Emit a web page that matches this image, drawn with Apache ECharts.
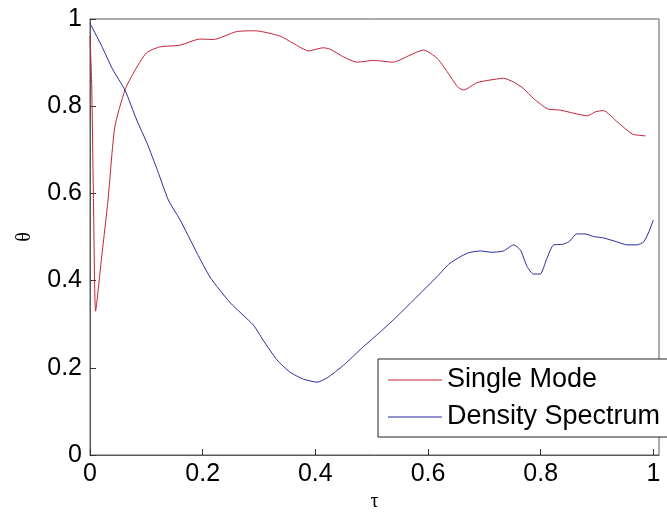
<!DOCTYPE html>
<html>
<head>
<meta charset="utf-8">
<script src="https://cdn.jsdelivr.net/npm/echarts@6/dist/echarts.min.js"></script>
<style>
  html, body { margin: 0; padding: 0; background: #fff; }
  #chart { width: 667px; height: 516px; }
</style>
</head>
<body>
<div id="chart"></div>
<script>
// Single Mode response
const singleTau = [0, 0.003, 0.006, 0.01, 0.02, 0.032, 0.044, 0.062, 0.077, 0.10, 0.124, 0.16, 0.195, 0.219, 0.26, 0.293, 0.337, 0.361, 0.388, 0.414, 0.426, 0.45, 0.474, 0.503, 0.538, 0.568, 0.592, 0.616, 0.634, 0.652, 0.663, 0.687, 0.71, 0.734, 0.751, 0.769, 0.787, 0.812, 0.835, 0.858, 0.883, 0.897, 0.911, 0.936, 0.963, 0.986];
const singleTheta = [0.96, 0.85, 0.6, 0.33, 0.446, 0.585, 0.752, 0.837, 0.876, 0.922, 0.936, 0.94, 0.954, 0.953, 0.971, 0.973, 0.961, 0.944, 0.927, 0.934, 0.931, 0.913, 0.901, 0.905, 0.901, 0.917, 0.929, 0.91, 0.879, 0.845, 0.837, 0.854, 0.86, 0.864, 0.856, 0.841, 0.818, 0.794, 0.791, 0.784, 0.778, 0.787, 0.79, 0.764, 0.736, 0.732];

// Density Spectrum response
const densityTau = [0, 0.02, 0.04, 0.062, 0.083, 0.101, 0.12, 0.139, 0.16, 0.19, 0.213, 0.249, 0.29, 0.307, 0.332, 0.355, 0.379, 0.403, 0.421, 0.45, 0.485, 0.515, 0.545, 0.574, 0.616, 0.639, 0.67, 0.693, 0.713, 0.734, 0.752, 0.764, 0.776, 0.787, 0.799, 0.811, 0.823, 0.838, 0.85, 0.864, 0.879, 0.894, 0.911, 0.935, 0.953, 0.971, 0.983, 0.992, 1.0];
const densityTheta = [0.99, 0.94, 0.885, 0.837, 0.768, 0.716, 0.652, 0.585, 0.539, 0.463, 0.408, 0.349, 0.298, 0.264, 0.218, 0.19, 0.174, 0.167, 0.177, 0.206, 0.248, 0.282, 0.318, 0.355, 0.409, 0.44, 0.463, 0.468, 0.465, 0.468, 0.482, 0.47, 0.432, 0.415, 0.415, 0.451, 0.482, 0.483, 0.489, 0.507, 0.507, 0.501, 0.498, 0.489, 0.482, 0.482, 0.489, 0.512, 0.539];

const xTicks = [0, 0.2, 0.4, 0.6, 0.8, 1];
const seriesNames = ['Single Mode', 'Density Spectrum'];

const zip = (xs, ys) => xs.map((x, i) => [x, ys[i]]);

const FONT = "'Liberation Sans', Arial, sans-serif";
const SERIF = "'Liberation Serif', 'DejaVu Serif', serif";
const AXIS_COLOR = '#5a5a5a';

const chart = echarts.init(document.getElementById('chart'), null, { renderer: 'canvas' });
chart.setOption({
  backgroundColor: '#fff',
  animation: false,
  grid: {
    left: 90, right: 8, top: 19, bottom: 61,
    outerBoundsMode: 'none', containLabel: false,
    show: true, borderColor: AXIS_COLOR, borderWidth: 1, backgroundColor: 'transparent'
  },
  xAxis: {
    type: 'value', min: 0, max: 1.01, interval: 0.2,
    name: 'τ', nameLocation: 'middle', nameGap: 37, nameMoveOverlap: false,
    nameTextStyle: { fontFamily: SERIF, fontSize: 20, color: '#000' },
    axisLine: { show: true, lineStyle: { color: AXIS_COLOR, width: 1 } },
    axisTick: { show: true, inside: true, length: 6, customValues: xTicks, lineStyle: { color: '#333', width: 1 } },
    axisLabel: { customValues: xTicks, fontFamily: FONT, fontSize: 25, color: '#000', margin: 7,
      formatter: v => String(v) },
    splitLine: { show: false }
  },
  yAxis: {
    type: 'value', min: 0, max: 1, interval: 0.2,
    name: 'θ', nameLocation: 'middle', nameGap: 55, nameRotate: 90, nameMoveOverlap: false,
    nameTextStyle: { fontFamily: SERIF, fontSize: 20, color: '#000' },
    axisLine: { show: true, lineStyle: { color: AXIS_COLOR, width: 1 } },
    axisTick: { show: true, inside: true, length: 6, lineStyle: { color: '#333', width: 1 } },
    axisLabel: { fontFamily: FONT, fontSize: 25, color: '#000', margin: 8 },
    splitLine: { show: false }
  },
  legend: {
    orient: 'vertical', left: 378, top: 359,
    data: seriesNames,
    icon: 'rect', itemWidth: 54, itemHeight: 1, itemGap: 7,
    padding: [6, 40, 5, 10],
    borderColor: '#222', borderWidth: 1, backgroundColor: '#fff',
    textStyle: { fontFamily: FONT, fontSize: 27, color: '#000', lineHeight: 30 }
  },
  series: [
    {
      name: seriesNames[0], type: 'line', data: zip(singleTau, singleTheta),
      symbol: 'none', smooth: 0.2,
      lineStyle: { color: '#c42236', width: 1 }, itemStyle: { color: '#c42236' }
    },
    {
      name: seriesNames[1], type: 'line', data: zip(densityTau, densityTheta),
      symbol: 'none', smooth: 0.2,
      lineStyle: { color: '#2b2b9c', width: 1 }, itemStyle: { color: '#2b2b9c' }
    }
  ]
});
</script>
</body>
</html>
